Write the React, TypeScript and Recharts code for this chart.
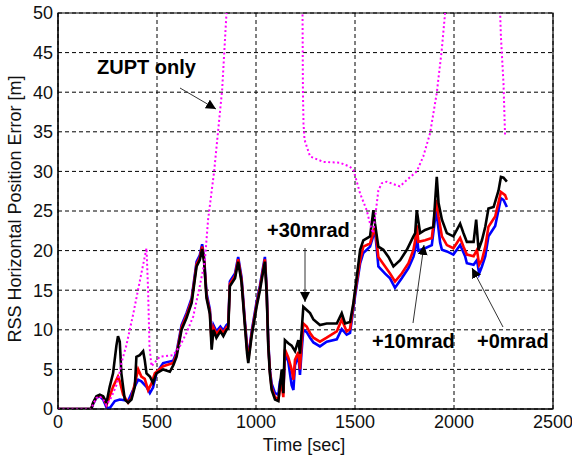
import React from "react";
import { LineChart, Line, XAxis, YAxis, CartesianGrid, ReferenceArea } from "recharts";

const xTicks = [0, 500, 1000, 1500, 2000, 2500];
const yTicks = [0, 5, 10, 15, 20, 25, 30, 35, 40, 45, 50];

// +30mrad (black) [time, error]
const black30: [number, number][] = [
  [0, 0], [168, 0], [177, 0.8], [194, 1.6], [211, 1.8], [228, 1.6], [245, 0.8], [261, 2.8], [278, 4.5],
  [295, 8.0], [303, 9.2], [312, 8.5], [320, 4.5], [337, 1.2], [354, 0.8], [371, 1.2], [388, 2.8], [396, 6.6],
  [413, 6.8], [430, 7.3], [438, 6.2], [447, 4.5], [464, 4.1], [480, 3.3], [497, 4.5], [531, 5.0], [565, 4.7],
  [582, 5.5], [599, 6.6], [624, 10.0], [649, 11.5], [675, 13.4], [700, 18.0], [716, 18.8], [728, 20.2],
  [738, 18.5], [750, 14.0], [767, 12.0], [776, 7.5], [785, 10.0], [800, 9.0], [820, 9.8], [835, 9.2],
  [851, 10.0], [860, 10.2], [868, 15.5], [894, 16.5], [910, 18.6], [927, 16.0], [944, 10.5], [955, 7.0],
  [961, 5.8], [978, 9.2], [1003, 12.9], [1020, 15.0], [1037, 17.5], [1045, 18.6], [1054, 14.5], [1062, 7.9],
  [1070, 4.5], [1079, 2.4], [1096, 1.2], [1113, 1.0], [1121, 3.0], [1130, 5.0], [1138, 2.0], [1146, 8.7],
  [1163, 8.3], [1180, 8.0], [1197, 7.3], [1214, 8.7], [1222, 7.0], [1231, 10.0], [1239, 12.9], [1256, 12.5],
  [1273, 12.1], [1290, 11.3], [1323, 10.6], [1357, 10.8], [1408, 10.8], [1433, 12.1], [1450, 10.8],
  [1475, 11.0], [1492, 13.4], [1509, 16.7], [1526, 20.1], [1542, 21.3], [1576, 21.8], [1593, 25.1],
  [1601, 23.4], [1618, 20.5], [1643, 20.1], [1669, 19.2], [1694, 18.0], [1728, 18.8], [1762, 20.1],
  [1795, 21.8], [1804, 22.2], [1812, 25.1], [1829, 22.2], [1854, 22.6], [1896, 23.0], [1913, 29.3],
  [1922, 26.0], [1939, 23.9], [1964, 22.2], [1997, 21.8], [2031, 23.4], [2048, 22.2], [2065, 21.1],
  [2099, 21.1], [2112, 23.9], [2124, 20.1], [2141, 21.3], [2158, 23.0], [2174, 25.3], [2200, 25.5],
  [2225, 27.6], [2237, 29.3], [2250, 29.2], [2267, 28.7],
];

// +10mrad (red)
const red10: [number, number][] = [
  [0, 0], [168, 0], [177, 0.7], [194, 1.5], [211, 1.7], [228, 1.5], [245, 0.5], [261, 1.6], [278, 2.8],
  [303, 4.1], [312, 3.5], [329, 1.8], [354, 0.8], [371, 1.4], [388, 3.2], [405, 5.0], [421, 4.1], [438, 3.8],
  [455, 2.4], [472, 3.2], [489, 4.5], [531, 5.4], [582, 5.8], [599, 6.9], [624, 10.3], [649, 11.8],
  [675, 13.7], [700, 18.3], [716, 19.1], [728, 20.5], [738, 18.8], [750, 14.3], [767, 12.3], [776, 8.2],
  [785, 10.3], [800, 9.5], [820, 10.1], [835, 9.6], [851, 10.3], [860, 10.5], [868, 15.8], [894, 16.8],
  [910, 18.9], [927, 16.3], [944, 10.8], [955, 7.5], [961, 6.2], [978, 9.5], [1003, 13.2], [1020, 15.3],
  [1037, 17.8], [1045, 18.9], [1054, 14.8], [1062, 8.2], [1070, 4.8], [1079, 2.7], [1096, 1.5], [1113, 1.2],
  [1121, 2.5], [1130, 3.0], [1138, 1.5], [1146, 7.5], [1163, 6.5], [1180, 5.0], [1189, 3.7], [1197, 6.2],
  [1214, 7.2], [1222, 5.0], [1231, 8.5], [1239, 10.8], [1256, 10.4], [1273, 9.6], [1290, 9.0], [1323, 8.5],
  [1357, 9.0], [1408, 9.8], [1433, 11.3], [1458, 9.8], [1475, 10.1], [1500, 14.6], [1526, 18.8],
  [1542, 20.5], [1576, 20.9], [1601, 23.0], [1618, 19.2], [1652, 18.0], [1677, 17.1], [1702, 16.1],
  [1736, 17.1], [1770, 18.4], [1795, 20.1], [1804, 21.3], [1812, 23.2], [1820, 21.1], [1854, 21.3],
  [1888, 21.6], [1910, 26.4], [1922, 24.3], [1939, 21.8], [1964, 20.7], [1997, 20.3], [2031, 21.6],
  [2048, 20.5], [2065, 19.5], [2099, 19.3], [2116, 20.1], [2127, 18.2], [2141, 18.8], [2158, 20.5],
  [2174, 23.0], [2208, 24.3], [2237, 27.4], [2258, 27.0], [2267, 26.4],
];

// +0mrad (blue)
const blue0: [number, number][] = [
  [0, 0], [168, 0], [177, 0.6], [194, 1.4], [211, 1.6], [228, 1.2], [245, 0.2], [261, 0.1], [287, 1.0],
  [312, 1.2], [337, 1.1], [354, 1.0], [379, 2.4], [405, 3.7], [421, 3.5], [447, 2.8], [464, 2.0], [480, 2.7],
  [497, 4.5], [531, 5.8], [582, 6.1], [599, 7.2], [624, 10.6], [649, 12.1], [675, 14.0], [700, 18.6],
  [716, 19.4], [728, 20.8], [738, 19.1], [750, 14.6], [767, 12.6], [776, 8.8], [785, 10.6], [800, 9.8],
  [820, 10.4], [835, 9.9], [851, 10.6], [860, 10.8], [868, 16.1], [894, 17.1], [910, 19.2], [927, 16.6],
  [944, 11.1], [955, 7.8], [961, 6.5], [978, 9.8], [1003, 13.5], [1020, 15.6], [1037, 18.1], [1045, 19.2],
  [1054, 15.1], [1062, 8.5], [1070, 5.0], [1079, 3.2], [1096, 2.0], [1113, 1.8], [1121, 3.5], [1130, 4.0],
  [1138, 2.0], [1146, 7.0], [1163, 6.0], [1180, 3.0], [1189, 2.4], [1197, 5.5], [1214, 6.8], [1222, 4.3],
  [1231, 7.5], [1239, 10.0], [1256, 9.7], [1273, 9.0], [1290, 8.4], [1323, 7.9], [1357, 8.5], [1408, 8.8],
  [1433, 10.1], [1458, 9.4], [1475, 9.6], [1500, 14.2], [1526, 18.4], [1542, 19.7], [1576, 20.5],
  [1601, 22.6], [1618, 18.0], [1652, 17.1], [1677, 16.5], [1702, 15.3], [1736, 16.5], [1770, 17.8],
  [1795, 19.2], [1804, 20.1], [1812, 22.1], [1820, 20.0], [1854, 20.3], [1888, 20.7], [1910, 25.2],
  [1930, 21.0], [1939, 20.1], [1964, 19.9], [1997, 19.5], [2031, 20.7], [2056, 19.3], [2065, 18.4],
  [2099, 18.2], [2116, 18.8], [2127, 17.1], [2141, 18.0], [2158, 19.3], [2174, 21.8], [2208, 23.1],
  [2237, 26.6], [2250, 26.4], [2267, 25.5],
];

// ZUPT only (magenta dotted); values above 50 leave the plot and are clipped
const zuptOnly: [number, number][] = [
  [0, 0], [168, 0], [177, 0.6], [194, 1.4], [211, 1.6], [228, 1.2], [245, 0.5], [270, 1.5], [295, 3.0],
  [315, 5.0], [320, 5.8], [345, 8.0], [380, 12.0], [420, 17.0], [447, 20.3], [455, 15.0], [462, 8.0],
  [472, 5.4], [514, 6.6], [581, 6.8], [615, 7.9], [649, 9.6], [683, 11.7], [716, 15.5], [742, 18.8],
  [758, 23.9], [789, 30.1], [829, 40.3], [851, 50], [870, 60], [1215, 60], [1235, 50], [1237, 40],
  [1240, 36], [1245, 34], [1273, 31.9], [1340, 31.2], [1424, 31.1], [1474, 30.6], [1492, 30.2],
  [1526, 27.2], [1559, 25.1], [1580, 23.0], [1592, 22.2], [1618, 27.6], [1635, 28.5], [1660, 28.7],
  [1727, 28.1], [1761, 28.9], [1812, 30.0], [1845, 31.9], [1879, 34.8], [1913, 39.9], [1938, 45.3],
  [1955, 50], [1970, 60], [2215, 60], [2233, 50], [2237, 47.0], [2250, 41.1], [2258, 34.4],
];

const toRows = (pts: [number, number][]) => pts.map(([t, v]) => ({ t, v }));

const FONT = "'Liberation Sans', Arial, Helvetica, sans-serif";

export default function App() {
  return (
    <div style={{ position: "absolute", left: 0, top: 0, width: 572, height: 458, background: "#fff" }}>
      <LineChart width={572} height={458} margin={{ top: 13, right: 19, bottom: 0, left: 0 }}>
        <CartesianGrid stroke="#000" strokeDasharray="4 3" strokeWidth={1} />
        <XAxis
          dataKey="t"
          type="number"
          domain={[0, 2500]}
          ticks={xTicks}
          height={49}
          tickLine={false}
          tickSize={4}
          axisLine={{ stroke: "#000" }}
          tick={{ fill: "#111", fontSize: 18, fontFamily: FONT }}
          allowDataOverflow
        />
        <YAxis
          type="number"
          domain={[0, 50]}
          ticks={yTicks}
          width={58}
          tickLine={false}
          tickSize={3}
          axisLine={{ stroke: "#000" }}
          tick={{ fill: "#111", fontSize: 18, fontFamily: FONT }}
          allowDataOverflow
        />
        <ReferenceArea x1={0} x2={2500} y1={0} y2={50} fill="none" stroke="#000" strokeWidth={1.2} ifOverflow="visible" />
        <Line data={toRows(blue0)} dataKey="v" stroke="#0000ff" strokeWidth={2.6} dot={false} isAnimationActive={false} />
        <Line data={toRows(red10)} dataKey="v" stroke="#ff0000" strokeWidth={2.6} dot={false} isAnimationActive={false} />
        <Line data={toRows(black30)} dataKey="v" stroke="#000000" strokeWidth={2.6} dot={false} isAnimationActive={false} />
        <Line data={toRows(zuptOnly)} dataKey="v" stroke="#ff00ff" strokeWidth={2} strokeDasharray="2 2.5" dot={false} isAnimationActive={false} />
      </LineChart>
      <svg width={572} height={458} style={{ position: "absolute", left: 0, top: 0, pointerEvents: "none" }}>
        <defs>
          <marker id="ah" viewBox="0 0 10 10" refX="10" refY="5" markerWidth="10" markerHeight="10" markerUnits="userSpaceOnUse" orient="auto">
            <path d="M0,0 L10,5 L0,10 z" fill="#000" />
          </marker>
        </defs>
        <text x={15} y={209} transform="rotate(-90 15 209)" textAnchor="middle" dominantBaseline="central" fontFamily={FONT} fontSize={18} fill="#111">
          RSS Horizontal Position Error [m]
        </text>
        <text x={304} y={451} textAnchor="middle" fontFamily={FONT} fontSize={18} fill="#111">
          Time [sec]
        </text>
        <text x={97} y={74} fontFamily={FONT} fontSize={20} fontWeight="bold" fill="#000">ZUPT only</text>
        <text x={267} y={237} fontFamily={FONT} fontSize={20} fontWeight="bold" fill="#000">+30mrad</text>
        <text x={372} y={348} fontFamily={FONT} fontSize={20} fontWeight="bold" fill="#000">+10mrad</text>
        <text x={477} y={348} fontFamily={FONT} fontSize={20} fontWeight="bold" fill="#000">+0mrad</text>
        <line x1={180} y1={88} x2={216} y2={109} stroke="#333" strokeWidth={1} markerEnd="url(#ah)" />
        <line x1={305} y1={248} x2={305} y2={302} stroke="#333" strokeWidth={1} markerEnd="url(#ah)" />
        <line x1={413} y1={323} x2={424} y2={245} stroke="#333" strokeWidth={1} markerEnd="url(#ah)" />
        <line x1={503} y1={327} x2={472} y2={268} stroke="#333" strokeWidth={1} markerEnd="url(#ah)" />
      </svg>
    </div>
  );
}
